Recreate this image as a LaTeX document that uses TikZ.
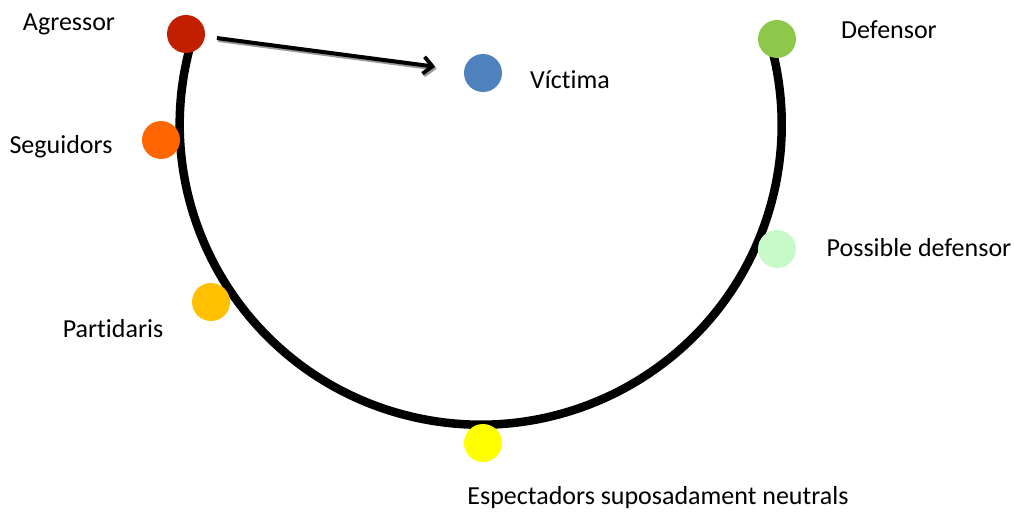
\documentclass[tikz,border=0pt]{standalone}
\usepackage{fontspec}
\setmainfont{Carlito}[Ligatures=NoCommon]
\usetikzlibrary{arrows.meta}
\definecolor{agrcol}{HTML}{C21E00}
\definecolor{segcol}{HTML}{FF6600}
\definecolor{parcol}{HTML}{FFC000}
\definecolor{espcol}{HTML}{FFFF00}
\definecolor{posdefcol}{HTML}{C8F9C8}
\definecolor{defcol}{HTML}{8DC84B}
\definecolor{viccol}{HTML}{4F81BD}
\begin{document}
\begin{tikzpicture}[x=1pt,y=-1pt,
  lbl/.style={font=\fontsize{26}{30}\selectfont,text=black},
  attack/.style={line width=4pt,shorten <=12pt,shorten >=29pt,
      -{Straight Barb[length=9pt,width=17pt,line width=3.8pt]}}]
  \useasboundingbox (0,0) rectangle (1014,513);
  % the half ring
  \draw[line width=8.5pt] (190,47) arc[start angle=195,end angle=-15,x radius=301,y radius=300];
  \begin{scope}[every node/.style={circle,inner sep=0pt,minimum size=38pt}]
  \node[fill=agrcol] (agr) at (186,34) {};
  \node[fill=segcol] (seg) at (161,140) {};
  \node[fill=parcol] (par) at (211,302) {};
  \node[fill=espcol] (esp) at (483,443) {};
  \node[fill=posdefcol] (posdef) at (777,249) {};
  \node[fill=defcol] (def) at (777,39) {};
  \node[fill=viccol] (vic) at (483,73) {};
  \end{scope}
  \begin{scope}[every node/.style={lbl}]
  \node (agrlbl) at (69,24) {Agressor};
  \node (seglbl) at (61,147) {Seguidors};
  \node (parlbl) at (113,329) {Partidaris};
  \node (esplbl) at (658,498) {Espectadors suposadament neutrals};
  \node (posdeflbl) at (919,248) {Possible defensor};
  \node (deflbl) at (889,30) {Defensor};
  \node (viclbl) at (570,80) {Víctima};
  \end{scope}
  \draw[attack,black!40,transform canvas={shift={(1.5pt,-2pt)}}] (agr) -- (vic);
  \draw[attack,black] (agr) -- (vic);
\end{tikzpicture}
\end{document}
